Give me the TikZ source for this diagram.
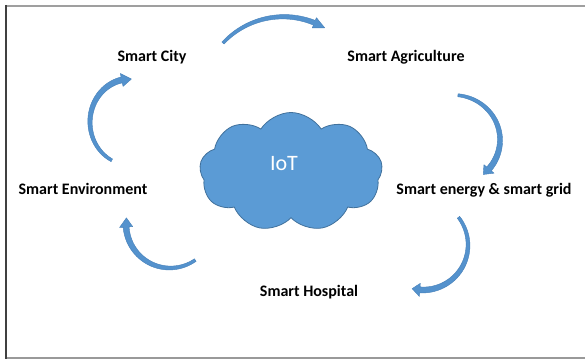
\documentclass[tikz,border=0pt]{standalone}
\usepackage{fontspec}
\setmainfont{Carlito}
\usetikzlibrary{shapes.symbols}

\definecolor{cloudblue}{RGB}{91,155,213}
\definecolor{cloudedge}{RGB}{65,113,156}
\definecolor{arrowblue}{RGB}{84,146,205}
\definecolor{arrowedge}{RGB}{70,128,185}

% Tapered curved arrow along an elliptic arc.
% #1,#2 centre; #3,#4 radii; #5 start angle; #6 angle of the head base;
% #7 angle of the tip; #8 width at the tail; #9 width at the head base.
\newcommand\arcarrow[9]{%
  \filldraw[arrowbody]
    plot[domain=#5:#6,samples=40]
      ({#1+(#3+(#8+(#9-#8)*(\x-(#5))/((#6)-(#5)))/2)*cos(\x)},
       {#2+(#4+(#8+(#9-#8)*(\x-(#5))/((#6)-(#5)))/2)*sin(\x)})
    -- ({#1+(#3+1.1*#9)*cos(#6)},{#2+(#4+1.1*#9)*sin(#6)})
    -- ({#1+#3*cos(#7)},{#2+#4*sin(#7)})
    -- ({#1+(#3-1.1*#9)*cos(#6)},{#2+(#4-1.1*#9)*sin(#6)})
    -- plot[domain=#6:#5,samples=40]
      ({#1+(#3-(#8+(#9-#8)*(\x-(#5))/((#6)-(#5)))/2)*cos(\x)},
       {#2+(#4-(#8+(#9-#8)*(\x-(#5))/((#6)-(#5)))/2)*sin(\x)})
    -- cycle;}

\tikzset{
  arrowbody/.style={fill=arrowblue, draw=arrowedge, line width=0.4pt, line join=round},
  lbl/.style={font=\fontsize{16}{16}\bfseries\selectfont, anchor=base, inner sep=0pt},
  iotcloud/.style={cloud, cloud puffs=9, cloud puff arc=115, aspect=1.5, draw=cloudedge,
    fill=cloudblue, line width=0.8pt, minimum width=183pt, minimum height=119pt,
    inner sep=0pt},
}

\begin{document}
\begin{tikzpicture}[x=1pt,y=-1pt]
  \useasboundingbox (0,0) rectangle (585,361);
  \fill[white] (0,0) rectangle (585,361);
  \clip (0,0) rectangle (585,361);

  % frame
  \draw[gray!75, line width=2pt] (5,6) -- (590,6);
  \draw[gray!80, line width=2pt] (5,358) -- (590,358);
  \draw[black!75, line width=2.4pt] (6,5) -- (6,359);

  % central cloud
  \node[iotcloud] (iot) at (291,172) {};
  \node[text=white, font=\fontsize{22}{22}\selectfont, inner sep=0pt] (iottext) at (284,164) {IoT};

  % labels
  \node[lbl] (city)   at (152,61)  {Smart City};
  \node[lbl] (agri)   at (406,61)  {Smart Agriculture};
  \node[lbl] (energy) at (484,194) {Smart energy \& smart grid};
  \node[lbl] (hosp)   at (309,296) {Smart Hospital};
  \node[lbl] (env)    at (83,194)  {Smart Environment};

  % curved arrows, clockwise round the cloud
  \arcarrow{283.4}{99.35}{82.6}{82.6}{-137}{-68}{-60}{3}{5}
  \arcarrow{453}{140}{47}{45}{-84}{40}{50}{3}{6}
  \arcarrow{423}{245}{45}{45}{-38}{94}{104}{3}{6}
  \arcarrow{170}{224}{44}{44}{55}{176}{188}{3}{6}
  \arcarrow{130}{122}{40}{43}{117}{258}{272}{3}{6}
\end{tikzpicture}
\end{document}
